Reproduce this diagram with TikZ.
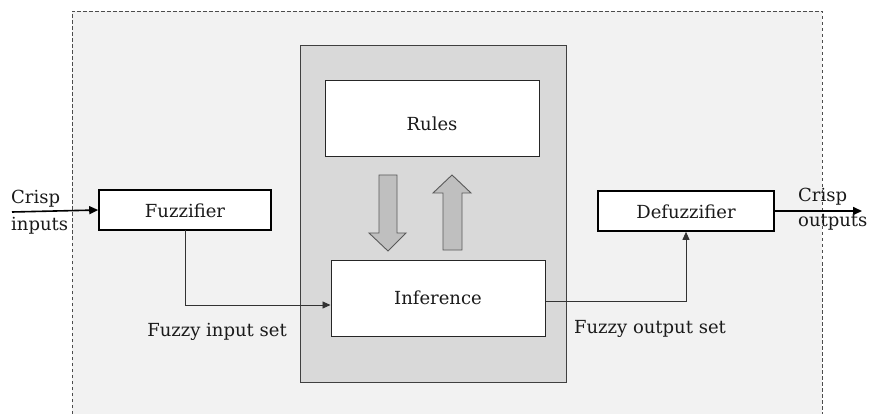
\documentclass[tikz,border=0pt]{standalone}
\usepackage{fontspec}
\setmainfont{DejaVu Serif}
\usetikzlibrary{arrows.meta}
\definecolor{outerbg}{HTML}{F2F2F2}
\definecolor{innerbg}{HTML}{D9D9D9}
\definecolor{arrowfill}{HTML}{BFBFBF}
\definecolor{txt}{HTML}{1A1A1A}
\begin{document}
\begin{tikzpicture}[x=1pt,y=-1pt,
  every node/.style={font=\fontsize{18}{21}\selectfont, text=txt},
  whitebox/.style={draw=black!85, fill=white, line width=1pt, inner sep=0pt},
  thickbox/.style={draw=black, fill=white, line width=1.6pt, inner sep=0pt},
  conn/.style={draw=black!80, line width=0.9pt},
  io/.style={draw=black, line width=1.6pt, -{Triangle[length=9pt,width=8pt]}},
  fatarrow/.style={draw=black!65, fill=arrowfill, line width=0.9pt, line join=miter}
]
\useasboundingbox (0,0) rectangle (870,414);
% outer dashed region
\fill[outerbg] (72,11) rectangle (822,414);
\draw[black!70, line width=0.8pt, dash pattern=on 3.5pt off 2.5pt] (72,414) -- (72,11) -- (822,11) -- (822,414);
% central gray box
\node[draw=black!75, fill=innerbg, line width=1pt, minimum width=266pt, minimum height=336pt, inner sep=0pt] (core) at (433,214) {};
\node[whitebox, minimum width=214pt, minimum height=76pt, text height=23pt] (rules) at (432,119) {Rules};
\node[whitebox, minimum width=214pt, minimum height=76pt] (inf) at (438,298) {Inference};
\node[thickbox, minimum width=172pt, minimum height=40pt, text height=16pt] (fuzz) at (185,210) {Fuzzifier};
\node[thickbox, minimum width=176pt, minimum height=40pt, text height=16pt] (defuzz) at (686,211) {Defuzzifier};
% fat arrows
\draw[fatarrow] (379,175) -- (397,175) -- (397,233) -- (406,233) -- (388,251) -- (369,233) -- (379,233) -- cycle;
\draw[fatarrow] (443,250) -- (462,250) -- (462,193) -- (471,193) -- (452,175) -- (433,193) -- (443,193) -- cycle;
% connectors
\coordinate (fb) at (185,230);
\draw[conn, -{Triangle[length=8pt,width=7pt]}] (fb) |- (inf.west |- 0,305);
\coordinate (ie) at (inf.east |- 0,301);
\draw[conn, -{Triangle[length=8pt,width=7pt]}] (ie) -| (defuzz.south);
\node[anchor=base, inner sep=0pt] (fin) at (217,336) {Fuzzy input set};
\node[anchor=base, inner sep=0pt] (fout) at (650,333) {Fuzzy output set};
% crisp io
\coordinate (cin) at (12,212);
\draw[io] (cin) -- (fuzz.west);
\coordinate (cout) at (862,211);
\draw[io] (defuzz.east) -- (cout);
\node[anchor=base west, inner sep=0pt] (ci1) at (11,204) {Crisp};
\node[anchor=base west, inner sep=0pt] (ci2) at (11,231) {inputs};
\node[anchor=base west, inner sep=0pt] (co1) at (798,202) {Crisp};
\node[anchor=base west, inner sep=0pt] (co2) at (798,227) {outputs};
\end{tikzpicture}
\end{document}
